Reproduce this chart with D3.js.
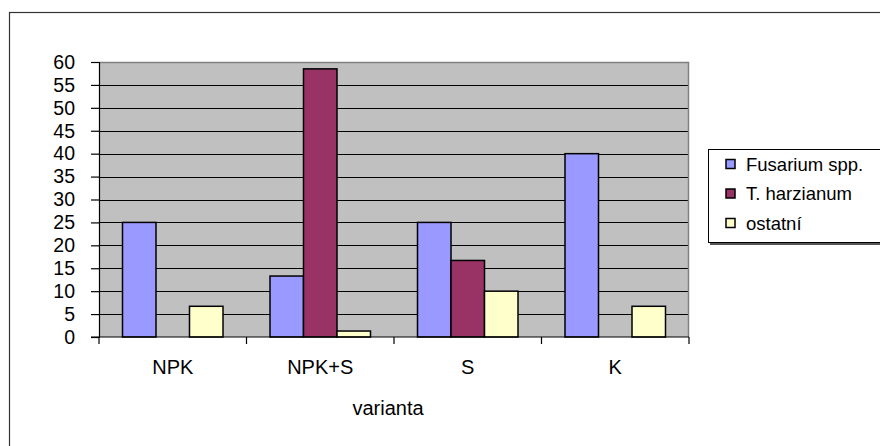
<!DOCTYPE html>
<html>
<head>
<meta charset="utf-8">
<script src="https://cdn.jsdelivr.net/npm/d3@7"></script>
<style>
  html, body { margin: 0; padding: 0; background: #fff; }
  svg { display: block; font-family: "Liberation Sans", Arial, sans-serif; }
</style>
</head>
<body>
<svg id="chart" width="880" height="446"></svg>
<script>
// Varianty hnojení a podíly izolátů (%)
const categories = ["NPK", "NPK+S", "S", "K"];
const seriesNames = ["Fusarium spp.", "T. harzianum", "ostatní"];
const fusarium = [25, 13.3, 25, 40];
const harzianum = [0, 58.5, 16.7, 0];
const ostatni = [6.7, 1.3, 10, 6.7];
const yTicks = [0, 5, 10, 15, 20, 25, 30, 35, 40, 45, 50, 55, 60];
const xTitle = "varianta";

const colors = ["#9999ff", "#993366", "#ffffcc"];
const series = [fusarium, harzianum, ostatni];

const svg = d3.select("#chart");
const plot = { left: 99, top: 62, right: 689, bottom: 337 };

// outer chart frame
svg.append("rect")
  .attr("x", 9.5).attr("y", 12.5)
  .attr("width", 900).attr("height", 500)
  .attr("fill", "#fff").attr("stroke", "#333").attr("stroke-width", 1.2);

const y = d3.scaleLinear().domain([0, 60]).range([plot.bottom, plot.top]);
const x0 = d3.scaleBand().domain(categories).range([plot.left, plot.right]).paddingInner(0).paddingOuter(0);
const groupPad = 23.5;
const x1 = d3.scaleBand().domain(d3.range(series.length))
  .range([groupPad, x0.bandwidth() - groupPad]).padding(0);

// plot background
svg.append("rect")
  .attr("x", plot.left).attr("y", plot.top)
  .attr("width", plot.right - plot.left).attr("height", plot.bottom - plot.top)
  .attr("fill", "#c0c0c0");

// horizontal gridlines
svg.append("g").selectAll("line").data(yTicks.filter(d => d > 0 && d < 60)).join("line")
  .attr("x1", plot.left).attr("x2", plot.right)
  .attr("y1", d => Math.round(y(d)) + 0.5).attr("y2", d => Math.round(y(d)) + 0.5)
  .attr("stroke", "#000").attr("stroke-width", 1);

// plot border (top and right)
svg.append("path")
  .attr("d", `M${plot.left},${plot.top + 0.5}H${plot.right - 0.5}V${plot.bottom}`)
  .attr("fill", "none").attr("stroke", "#808080").attr("stroke-width", 1.5);

// bars
const groups = svg.append("g").selectAll("g").data(categories).join("g")
  .attr("transform", c => `translate(${x0(c)},0)`);
groups.selectAll("rect")
  .data((c, i) => series.map((s, k) => ({ k, v: s[i] })).filter(d => d.v > 0))
  .join("rect")
  .attr("x", d => x1(d.k))
  .attr("y", d => y(d.v))
  .attr("width", x1.bandwidth())
  .attr("height", d => y(0) - y(d.v))
  .attr("fill", d => colors[d.k])
  .attr("stroke", "#000").attr("stroke-width", 1.5);

// y axis
const yAxis = d3.axisLeft(y).tickValues(yTicks).tickSize(8).tickPadding(16);
const gy = svg.append("g").attr("transform", `translate(${plot.left},0)`).call(yAxis);
gy.select(".domain").attr("stroke", "#000").attr("stroke-width", 1.2);
gy.selectAll(".tick line").attr("stroke", "#000").attr("stroke-width", 1.2);
gy.selectAll(".tick text")
  .attr("font-size", 19.5).attr("fill", "#000")
  .attr("font-family", "Liberation Sans, Arial, sans-serif");

// x axis line with ticks at category boundaries
const gx = svg.append("g");
gx.append("line")
  .attr("x1", plot.left - 8).attr("x2", plot.right)
  .attr("y1", plot.bottom).attr("y2", plot.bottom)
  .attr("stroke", "#000").attr("stroke-width", 1.2);
const bounds = categories.map(c => x0(c)).concat([plot.right]);
gx.selectAll("line.tk").data(bounds).join("line").attr("class", "tk")
  .attr("x1", d => d).attr("x2", d => d)
  .attr("y1", plot.bottom).attr("y2", plot.bottom + 7)
  .attr("stroke", "#000").attr("stroke-width", 1.2);
gx.selectAll("text").data(categories).join("text")
  .attr("x", c => x0(c) + x0.bandwidth() / 2)
  .attr("y", 374)
  .attr("text-anchor", "middle")
  .attr("font-size", 20).attr("fill", "#000")
  .text(d => d);

// x axis title
svg.append("text")
  .attr("x", (plot.left + plot.right) / 2 - 6).attr("y", 415)
  .attr("text-anchor", "middle").attr("font-size", 20).attr("fill", "#000")
  .text(xTitle);

// legend
const lg = svg.append("g").attr("transform", "translate(708,149)");
lg.append("rect").attr("x", 2).attr("y", 2).attr("width", 200).attr("height", 94).attr("fill", "#555");
lg.append("rect").attr("x", 0.5).attr("y", 0.5).attr("width", 200).attr("height", 93)
  .attr("fill", "#fff").attr("stroke", "#000").attr("stroke-width", 1);
const items = lg.selectAll("g.item").data(seriesNames).join("g").attr("class", "item")
  .attr("transform", (d, i) => `translate(0,${15 + i * 29.5})`);
items.append("rect")
  .attr("x", 18).attr("y", -4.5).attr("width", 9).attr("height", 9)
  .attr("fill", (d, i) => colors[i]).attr("stroke", "#000").attr("stroke-width", 1.5);
items.append("text")
  .attr("x", 38).attr("y", 6.5)
  .attr("font-size", 18.5).attr("fill", "#000")
  .text(d => d);
</script>
</body>
</html>
